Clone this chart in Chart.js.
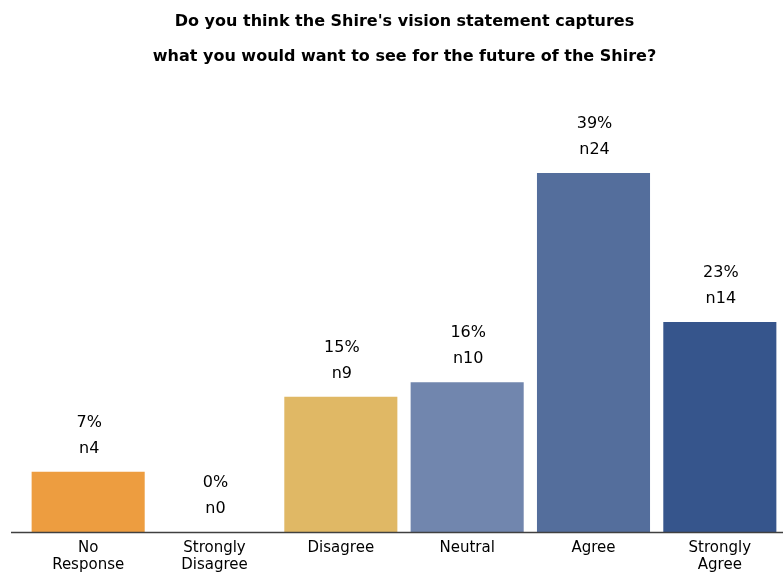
<!DOCTYPE html>
<html>
<head>
<meta charset="utf-8">
<script src="https://cdn.jsdelivr.net/npm/chart.js@4"></script>
<style>
  html, body { margin: 0; padding: 0; background: #fff; }
  #wrap { width: 783px; height: 572px; }
</style>
</head>
<body>
<div id="wrap"><canvas id="visionChart"></canvas></div>
<script>
//
// chart data
//
const categories = [["No", "Response"], ["Strongly", "Disagree"], "Disagree", "Neutral", "Agree", ["Strongly", "Agree"]];
const percentValues = [6.6, 0, 14.8, 16.4, 39.3, 23.0];
const percentLabels = ["7%", "0%", "15%", "16%", "39%", "23%"];
const countLabels = ["n4", "n0", "n9", "n10", "n24", "n14"];
const barColours = ["#ED9D40", "#ED9D40", "#E0B865", "#7186AE", "#546E9C", "#36558C"];

// labels above bars + baseline
const barLabels = {
  id: "barLabels",
  afterDatasetsDraw(chart) {
    const ctx = chart.ctx;
    const meta = chart.getDatasetMeta(0);
    ctx.save();
    ctx.fillStyle = "#000";
    ctx.font = "16px 'DejaVu Sans'";
    ctx.textAlign = "center";
    ctx.textBaseline = "middle";
    meta.data.forEach(function (bar, i) {
      ctx.fillText(percentLabels[i], bar.x + 1, bar.y - 49);
      ctx.fillText(countLabels[i], bar.x + 1, bar.y - 23);
    });
    // axis line
    const y = chart.chartArea.bottom + 0.5;
    ctx.strokeStyle = "#404040";
    ctx.lineWidth = 1.5;
    ctx.beginPath();
    ctx.moveTo(11, y);
    ctx.lineTo(chart.width, y);
    ctx.stroke();
    ctx.restore();
  }
};

const visionChart = new Chart("visionChart", {
  type: "bar",
  data: {
    labels: categories,
    datasets: [{
      label: "Responses",
      backgroundColor: barColours,
      borderWidth: 0,
      data: percentValues,
      barPercentage: 0.895,
      categoryPercentage: 1.0
    }]
  },
  options: {
    responsive: true,
    maintainAspectRatio: false,
    animation: false,
    layout: { padding: { left: 25, right: -1, top: 0, bottom: 0 } },
    plugins: {
      legend: { display: false },
      tooltip: { enabled: false },
      title: {
        display: true,
        text: ["Do you think the Shire's vision statement captures", "what you would want to see for the future of the Shire?"],
        color: "#000",
        font: { family: "'DejaVu Sans'", size: 16, weight: "bold", lineHeight: "35px" },
        padding: { top: 4.5, bottom: 25.5 }
      }
    },
    scales: {
      y: {
        display: false,
        min: 0,
        max: 47.3
      },
      x: {
        afterFit(scale) { scale.height = 40; },
        grid: { display: false, drawTicks: false },
        border: { display: false },
        ticks: {
          color: "#000",
          padding: 7,
          maxRotation: 0,
          autoSkip: false,
          font: { family: "'DejaVu Sans'", size: 15, lineHeight: 1.15 }
        }
      }
    }
  },
  plugins: [barLabels]
});
</script>
</body>
</html>
